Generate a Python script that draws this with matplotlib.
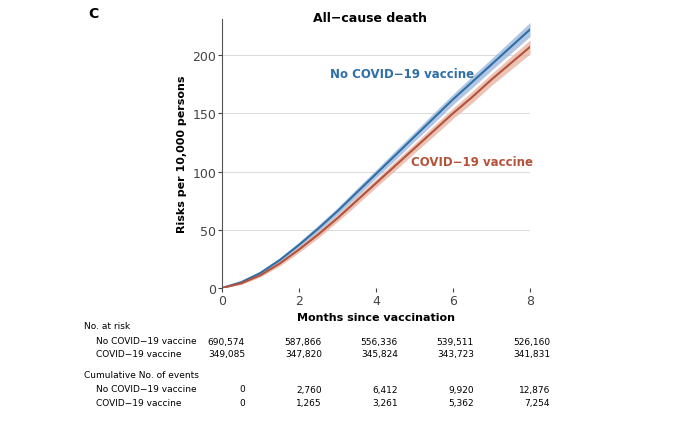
import matplotlib
matplotlib.use("Agg")
import matplotlib.pyplot as plt
import numpy as np

months = [0,0.5,1,1.5,2,2.5,3,3.5,4,4.5,5,5.5,6,6.5,7,7.5,8]
no_vax = [0,5,13,24,37,51,66,82,98,114,130,146,162,177,192,207,222]
vax = [0,4,11,21,33,46,60,75,90,105,120,135,150,164,179,193,207]
no_vax_band = [0,1,1.5,2,2.5,3,3,3.5,3.5,4,4,4.5,4.5,5,5,5.5,6]
vax_band = [0,1,1.5,2,2.5,3,3,3.5,3.5,4,4,4.5,4.5,5,5,5.5,6]

risk_rows = [("No COVID\u221219 vaccine", ["690,574","587,866","556,336","539,511","526,160"]),
             ("COVID\u221219 vaccine", ["349,085","347,820","345,824","343,723","341,831"])]
event_rows = [("No COVID\u221219 vaccine", ["0","2,760","6,412","9,920","12,876"]),
              ("COVID\u221219 vaccine", ["0","1,265","3,261","5,362","7,254"])]

blue = "#2f6fa8"; red = "#b5533a"
fig = plt.figure(figsize=(6.8,4.31), dpi=100)
ax = fig.add_axes([222/680, 1-289/431, 308/680, 269/431])
m = np.array(months)
for y, b, c, fc in [(no_vax, no_vax_band, blue, "#9db8db"), (vax, vax_band, red, "#e6b5a5")]:
    y = np.array(y); b = np.array(b)
    ax.fill_between(m, y-b, y+b, color=fc, alpha=0.8, lw=0)
    ax.plot(m, y, color=c, lw=1.5)
ax.set_xlim(0,8); ax.set_ylim(0,231)
ax.set_xticks([0,2,4,6,8]); ax.set_yticks([0,50,100,150,200])
ax.yaxis.grid(True, color="#dddddd", lw=0.8); ax.set_axisbelow(True)
for s in ["top","right","bottom"]:
    ax.spines[s].set_visible(False)
ax.spines["left"].set_color("#555555")
ax.tick_params(labelsize=9, colors="#444444", length=3, pad=1)
ax.set_xlabel("Months since vaccination", fontsize=8, fontweight="bold", labelpad=4)
ax.set_ylabel("Risks per 10,000 persons", fontsize=8, fontweight="bold")
ax.text(2.8, 184, "No COVID\u221219 vaccine", color=blue, fontsize=8.5, fontweight="bold", va="center")
ax.text(4.9, 109, "COVID\u221219 vaccine", color=red, fontsize=8.5, fontweight="bold", va="center")
fig.text(88/680, 1-14/431, "C", fontsize=10, fontweight="bold", va="center")
fig.text(370/680, 1-18/431, "All\u2212cause death", fontsize=9, fontweight="bold", ha="center", va="center")

xs = [245, 322, 398, 474, 550]
def row(y, label, vals):
    fig.text(96/680, 1-y/431, label, fontsize=6.5, va="center")
    for x, v in zip(xs, vals):
        fig.text(x/680, 1-y/431, v, fontsize=6.5, va="center", ha="right")
fig.text(84/680, 1-327/431, "No. at risk", fontsize=6.5, va="center")
row(342, *risk_rows[0]); row(355, *risk_rows[1])
fig.text(84/680, 1-376/431, "Cumulative No. of events", fontsize=6.5, va="center")
row(390, *event_rows[0]); row(404, *event_rows[1])
fig.savefig("out.png", dpi=100)
